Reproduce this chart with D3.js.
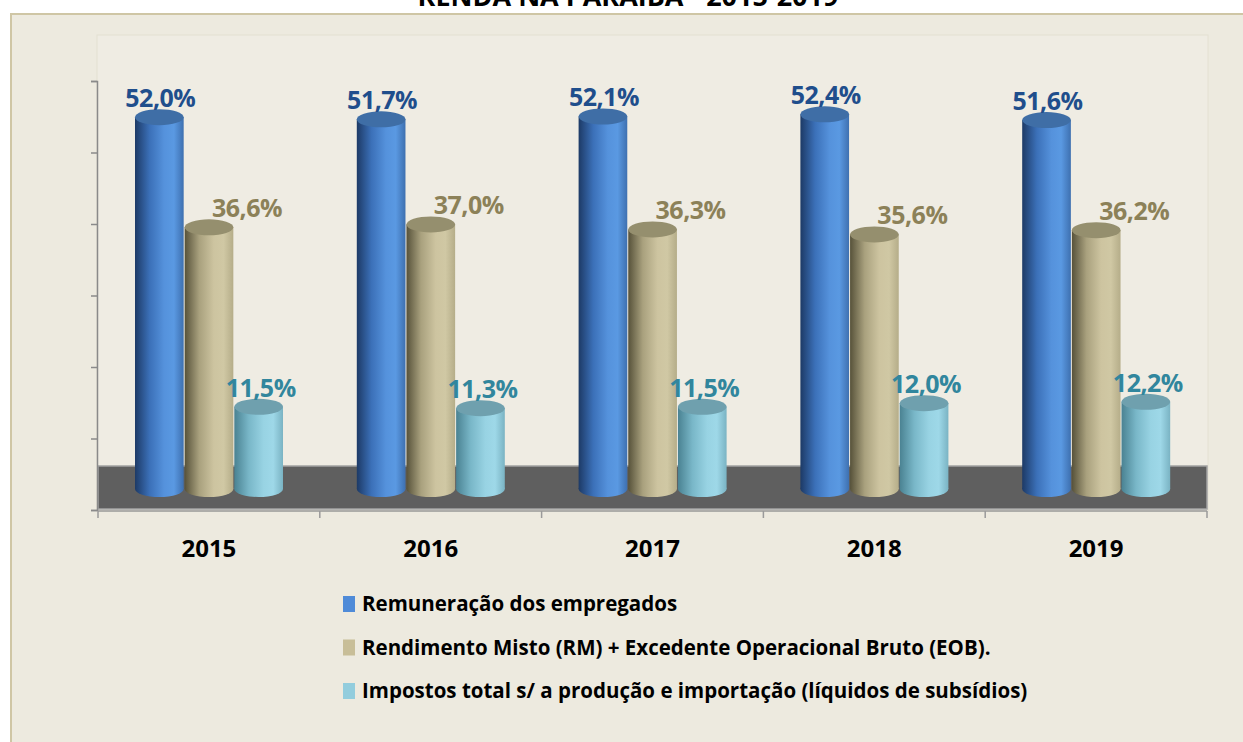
<!DOCTYPE html>
<html>
<head>
<meta charset="utf-8">
<script src="https://cdn.jsdelivr.net/npm/d3@7"></script>
<style>
  html, body { margin: 0; padding: 0; background: #fff; }
  svg { display: block; }
  text { font-family: "Open Sans", "Noto Sans", sans-serif; font-weight: bold; }
</style>
</head>
<body>
<div id="chart"></div>
<script>
(function() {
  'use strict';

  var years = ["2015", "2016", "2017", "2018", "2019"];
  var seriesNames = [
    "Remuneração dos empregados",
    "Rendimento Misto (RM) + Excedente Operacional Bruto (EOB).",
    "Impostos total s/ a produção e importação (líquidos de subsídios)"
  ];
  var remuneracao = [52.0, 51.7, 52.1, 52.4, 51.6];
  var rendimentoMisto = [36.6, 37.0, 36.3, 35.6, 36.2];
  var impostos = [11.5, 11.3, 11.5, 12.0, 12.2];
  var yTicks = [0, 10, 20, 30, 40, 50, 60];
  var title = "RENDA NA PARAÍBA - 2015-2019";

  var width = 1243, height = 742;

  // one style per series: cylinder gradient, top cap, label colour, label offset
  var styles = [
    {id: "blue", stops: ["#1d3a66", "#3b70b8", "#5592dc", "#5a99e2", "#3e70b0"], top: "#3f6ea6", label: "#1f4e8c", dx: 1, legend: "#4f8bd8"},
    {id: "tan", stops: ["#57523a", "#a9a17e", "#cdc4a0", "#d0c8a4", "#b5ad89"], top: "#958f6e", label: "#8c8158", dx: 38, legend: "#c8be98"},
    {id: "cyan", stops: ["#4a8292", "#79b7c8", "#98d3e3", "#9ed8e8", "#7ab3c3"], top: "#6fa0ae", label: "#31869d", dx: 2, legend: "#93cddd"}
  ];

  var data = years.map(function(y, i) {
    return {year: y, values: [remuneracao[i], rendimentoMisto[i], impostos[i]]};
  });

  var svg = d3.select("#chart").append("svg")
    .attr("width", width)
    .attr("height", height);

  var defs = svg.append("defs");
  styles.forEach(function(s) {
    var g = defs.append("linearGradient")
      .attr("id", "grad-" + s.id)
      .attr("x1", "0%").attr("x2", "100%")
      .attr("y1", "0%").attr("y2", "0%");
    var offsets = [0, 0.3, 0.6, 0.8, 1];
    s.stops.forEach(function(c, i) {
      g.append("stop").attr("offset", offsets[i]).attr("stop-color", c);
    });
  });

  // outer panel
  svg.append("rect")
    .attr("x", 11).attr("y", 14)
    .attr("width", width).attr("height", height)
    .attr("fill", "#edeadf")
    .attr("stroke", "#cfc6a5")
    .attr("stroke-width", 2);

  // title (cut off at top like the original)
  svg.append("text")
    .attr("x", 628).attr("y", 6)
    .attr("text-anchor", "middle")
    .attr("font-size", 27)
    .attr("fill", "#000")
    .text(title);

  // plot area
  svg.append("rect")
    .attr("x", 97).attr("y", 35)
    .attr("width", 1111).attr("height", 476)
    .attr("fill", "#efece3")
    .attr("stroke", "#e4e0d2")
    .attr("stroke-width", 1);

  var x0 = d3.scaleBand()
    .domain(years)
    .range([98, 1207]);

  var x1 = d3.scaleBand()
    .domain([0, 1, 2])
    .range([37, 186]);

  var y = d3.scaleLinear()
    .domain([0, 60])
    .range([489, 60]);

  var depth = 21;
  var ry = 8;

  // floor
  svg.append("rect")
    .attr("x", x0.range()[0])
    .attr("y", y(0) - 23)
    .attr("width", x0.range()[1] - x0.range()[0])
    .attr("height", depth + 22)
    .attr("fill", "#5f5f5f")
    .attr("stroke", "#a3a3a3")
    .attr("stroke-width", 1.5);

  // y axis (no labels)
  var yAxis = d3.axisLeft(y).tickValues(yTicks).tickSize(6).tickFormat("");
  var yAxisG = svg.append("g")
    .attr("transform", "translate(" + 97 + "," + depth + ")")
    .call(yAxis);
  yAxisG.select(".domain").attr("stroke", "#8a8a8a").attr("stroke-width", 1.5);
  yAxisG.selectAll(".tick line").attr("stroke", "#8a8a8a").attr("stroke-width", 1.5);

  // x axis
  svg.append("line")
    .attr("x1", x0.range()[0]).attr("x2", x0.range()[1])
    .attr("y1", y(0) + depth + 1).attr("y2", y(0) + depth + 1)
    .attr("stroke", "#9a9a9a").attr("stroke-width", 1.5);
  var boundaries = years.map(function(d) { return x0(d); }).concat([x0.range()[1]]);
  svg.selectAll(".xtick").data(boundaries).enter()
    .append("line")
    .attr("class", "xtick")
    .attr("x1", function(d) { return d; }).attr("x2", function(d) { return d; })
    .attr("y1", y(0) + depth + 1).attr("y2", y(0) + depth + 8)
    .attr("stroke", "#9a9a9a").attr("stroke-width", 1.5);

  svg.selectAll(".year-label").data(years).enter()
    .append("text")
    .attr("class", "year-label")
    .attr("x", function(d) { return x0(d) + x0.bandwidth() / 2; })
    .attr("y", 557)
    .attr("text-anchor", "middle")
    .attr("font-size", 24)
    .attr("fill", "#000")
    .text(function(d) { return d; });

  // cylinders
  var group = svg.selectAll(".group").data(data).enter()
    .append("g")
    .attr("class", "group")
    .attr("transform", function(d) { return "translate(" + x0(d.year) + ",0)"; });

  var cyl = group.selectAll(".cyl")
    .data(function(d) { return d.values.map(function(v, i) { return {v: v, i: i}; }); })
    .enter()
    .append("g")
    .attr("class", "cyl");

  var bw = x1.bandwidth() - 1;

  cyl.append("ellipse")
    .attr("cx", function(d) { return x1(d.i) + bw / 2; })
    .attr("cy", y(0))
    .attr("rx", bw / 2).attr("ry", ry)
    .attr("fill", function(d) { return "url(#grad-" + styles[d.i].id + ")"; });

  cyl.append("rect")
    .attr("x", function(d) { return x1(d.i); })
    .attr("y", function(d) { return y(d.v); })
    .attr("width", bw)
    .attr("height", function(d) { return y(0) - y(d.v); })
    .attr("fill", function(d) { return "url(#grad-" + styles[d.i].id + ")"; });

  cyl.append("ellipse")
    .attr("cx", function(d) { return x1(d.i) + bw / 2; })
    .attr("cy", function(d) { return y(d.v); })
    .attr("rx", bw / 2).attr("ry", ry)
    .attr("fill", function(d) { return styles[d.i].top; });

  cyl.append("text")
    .attr("x", function(d) { return x1(d.i) + bw / 2 + styles[d.i].dx; })
    .attr("y", function(d) { return y(d.v) - ry - 2; })
    .attr("text-anchor", "middle")
    .attr("font-size", 25)
    .attr("letter-spacing", -0.5)
    .attr("fill", function(d) { return styles[d.i].label; })
    .text(function(d) { return d3.format(".1f")(d.v).replace(".", ",") + "%"; });

  // legend
  var legend = svg.selectAll(".legend").data(seriesNames).enter()
    .append("g")
    .attr("class", "legend")
    .attr("transform", function(d, i) { return "translate(343," + (596 + i * 43.5) + ")"; });

  legend.append("rect")
    .attr("width", 12).attr("height", 16)
    .attr("fill", function(d, i) { return styles[i].legend; });

  legend.append("text")
    .attr("x", 19).attr("y", 15)
    .attr("font-size", 20.5)
    .attr("fill", "#000")
    .text(function(d) { return d; });
}());
</script>
</body>
</html>
